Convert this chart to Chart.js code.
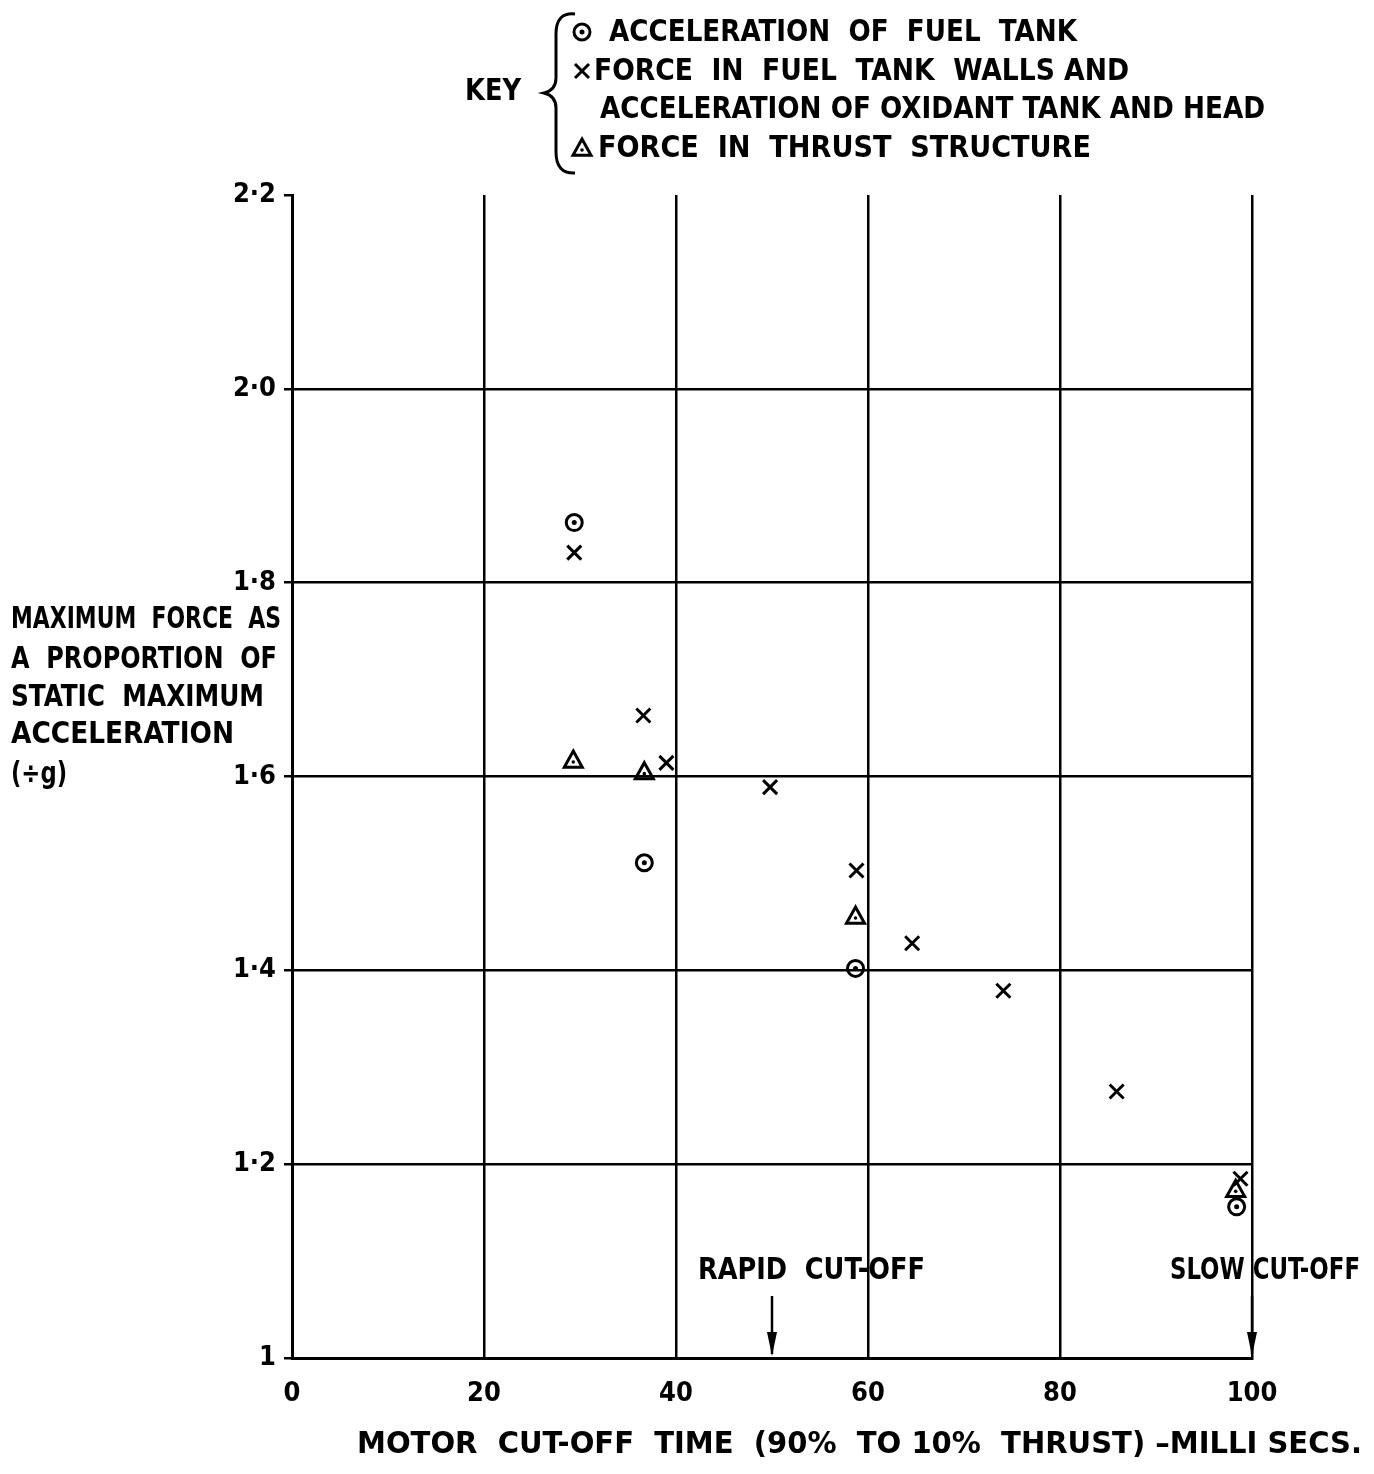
<!DOCTYPE html>
<html>
<head>
<meta charset="utf-8">
<script src="https://cdn.jsdelivr.net/npm/chart.js@4.4.1/dist/chart.umd.min.js"></script>
<style>
  html, body { margin: 0; padding: 0; background: #fff; }
  #wrap { width: 1374px; height: 1474px; position: relative; }
</style>
</head>
<body>
<div id="wrap"><canvas id="cutoffChart"></canvas></div>
<script>
// values
const fuelTankTime = [29.4, 36.7, 58.7, 98.4];
const fuelTankAccel = [1.862, 1.511, 1.402, 1.156];
const wallsTime = [29.4, 36.6, 39.0, 49.8, 58.8, 64.6, 74.1, 85.9, 98.8];
const wallsForce = [1.831, 1.663, 1.614, 1.589, 1.503, 1.428, 1.379, 1.275, 1.185];
const thrustTime = [29.3, 36.7, 58.7, 98.3];
const thrustForce = [1.617, 1.605, 1.456, 1.174];
const xTicks = [0, 20, 40, 60, 80, 100];
const yTicks = [1, 1.2, 1.4, 1.6, 1.8, 2.0, 2.2];
const cutoffTimes = [50, 100];
const cutoffLabels = ['RAPID  CUT-OFF', 'SLOW CUT-OFF'];
const keyLines = ['ACCELERATION  OF  FUEL  TANK', 'FORCE  IN  FUEL  TANK  WALLS AND',
  'ACCELERATION OF OXIDANT TANK AND HEAD', 'FORCE  IN  THRUST  STRUCTURE'];
const yTitle = ['MAXIMUM  FORCE  AS', 'A  PROPORTION  OF', 'STATIC  MAXIMUM', 'ACCELERATION', '(\u00f7g)'];
const xTitle = 'MOTOR  CUT-OFF  TIME  (90%  TO 10%  THRUST) \u2013MILLI SECS.';

const FONT = '"DejaVu Sans Condensed", "DejaVu Sans", sans-serif';
const pts = (xs, ys) => xs.map((x, i) => ({ x: x, y: ys[i] }));

// draw text stretched or squeezed to the given width
function fitText(ctx, text, x, y, w) {
  const m = ctx.measureText(text).width;
  ctx.save();
  ctx.translate(x, y);
  ctx.scale(w / m, 1);
  ctx.fillText(text, 0, 0);
  ctx.restore();
}

function sym(ctx, kind, x, y, r) {
  ctx.save();
  ctx.strokeStyle = '#000'; ctx.fillStyle = '#000'; ctx.lineWidth = 3;
  ctx.beginPath();
  if (kind === 'circle') {
    ctx.arc(x, y, r, 0, Math.PI * 2); ctx.stroke();
    ctx.beginPath(); ctx.arc(x, y, 2.5, 0, Math.PI * 2); ctx.fill();
  } else if (kind === 'cross') {
    ctx.moveTo(x - r, y - r); ctx.lineTo(x + r, y + r);
    ctx.moveTo(x + r, y - r); ctx.lineTo(x - r, y + r); ctx.stroke();
  } else {
    ctx.moveTo(x, y - r); ctx.lineTo(x + r, y + r * 0.8); ctx.lineTo(x - r, y + r * 0.8);
    ctx.closePath(); ctx.stroke();
    ctx.beginPath(); ctx.arc(x, y + 2, 1.8, 0, Math.PI * 2); ctx.fill();
  }
  ctx.restore();
}

const decorations = {
  id: 'decorations',
  afterDraw(chart) {
    const ctx = chart.ctx;
    const xs = chart.scales.x, ys = chart.scales.y;
    ctx.save();
    ctx.fillStyle = '#000'; ctx.strokeStyle = '#000';
    ctx.textBaseline = 'middle'; ctx.textAlign = 'left';

    // key
    ctx.font = 'bold 30px ' + FONT;
    fitText(ctx, 'KEY', 465, 92, 56);
    ctx.lineWidth = 3;
    ctx.beginPath();
    ctx.moveTo(575, 14); ctx.quadraticCurveTo(556, 12, 556, 34);
    ctx.lineTo(556, 78); ctx.quadraticCurveTo(556, 90, 544, 93);
    ctx.quadraticCurveTo(556, 96, 556, 108);
    ctx.lineTo(556, 152); ctx.quadraticCurveTo(556, 174, 575, 173);
    ctx.stroke();
    const keyY = [33, 72, 110, 149];
    const keyX = [609, 594, 600, 598];
    const keyW = [468, 535, 665, 493];
    keyLines.forEach((t, i) => fitText(ctx, t, keyX[i], keyY[i], keyW[i]));
    sym(ctx, 'circle', 582, 32, 8);
    sym(ctx, 'cross', 582, 71, 7);
    sym(ctx, 'triangle', 582, 148, 9);

    // y axis title
    const tY = [620, 660, 698, 735, 775];
    const tW = [270, 266, 253, 223, 56];
    yTitle.forEach((t, i) => fitText(ctx, t, 11, tY[i], tW[i]));

    // x axis title
    fitText(ctx, xTitle, 357, 1445, 1005);

    // cut-off arrows
    ctx.lineWidth = 2.5;
    cutoffTimes.forEach((v, i) => {
      const px = xs.getPixelForValue(v);
      const base = ys.getPixelForValue(1);
      ctx.beginPath(); ctx.moveTo(px, base - 62); ctx.lineTo(px, base - 4); ctx.stroke();
      ctx.beginPath(); ctx.moveTo(px - 5, base - 26); ctx.lineTo(px + 5, base - 26); ctx.lineTo(px, base - 2);
      ctx.closePath(); ctx.fill();
      fitText(ctx, cutoffLabels[i], px - (i === 0 ? 74 : 82), 1271, i === 0 ? 227 : 190);
    });
    ctx.restore();
  }
};

const dataPlugin = {
  id: 'marks',
  afterDatasetsDraw(chart) {
    const ctx = chart.ctx;
    const xs = chart.scales.x, ys = chart.scales.y;
    fuelTankTime.forEach((x, i) => sym(ctx, 'circle', xs.getPixelForValue(x), ys.getPixelForValue(fuelTankAccel[i]), 8));
    wallsTime.forEach((x, i) => sym(ctx, 'cross', xs.getPixelForValue(x), ys.getPixelForValue(wallsForce[i]), 7));
    thrustTime.forEach((x, i) => sym(ctx, 'triangle', xs.getPixelForValue(x), ys.getPixelForValue(thrustForce[i]), 9));
  }
};

new Chart(document.getElementById('cutoffChart'), {
  type: 'scatter',
  data: {
    datasets: [
      { label: 'Acceleration of fuel tank', data: pts(fuelTankTime, fuelTankAccel), pointRadius: 0 },
      { label: 'Force in fuel tank walls and acceleration of oxidant tank and head', data: pts(wallsTime, wallsForce), pointRadius: 0 },
      { label: 'Force in thrust structure', data: pts(thrustTime, thrustForce), pointRadius: 0 }
    ]
  },
  options: {
    responsive: true,
    maintainAspectRatio: false,
    animation: false,
    layout: { padding: { left: 0, right: 122, top: 195, bottom: 0 } },
    plugins: { legend: { display: false }, tooltip: { enabled: false } },
    scales: {
      x: {
        type: 'linear', min: 0, max: 100,
        afterBuildTicks: s => { s.ticks = xTicks.map(v => ({ value: v })); },
        afterFit: s => { s.height = 116; },
        grid: { color: '#000', lineWidth: 2.5, drawTicks: false },
        border: { color: '#000', width: 3 },
        ticks: { color: '#000', padding: 20, font: { family: FONT, size: 27, weight: 'bold' } }
      },
      y: {
        type: 'linear', min: 1, max: 2.2,
        afterBuildTicks: s => { s.ticks = yTicks.map(v => ({ value: v })); },
        afterFit: s => { s.width = 292; },
        grid: {
          color: c => (c.tick && c.tick.value === 2.2 ? 'rgba(0,0,0,0)' : '#000'),
          tickColor: '#000', lineWidth: 2.5, tickLength: 8
        },
        border: { color: '#000', width: 3 },
        ticks: {
          color: '#000', padding: 8,
          font: { family: FONT, size: 27, weight: 'bold' },
          callback: v => (v === 1 ? '1' : v.toFixed(1).replace('.', '\u00b7'))
        }
      }
    }
  },
  plugins: [dataPlugin, decorations]
});
</script>
</body>
</html>
